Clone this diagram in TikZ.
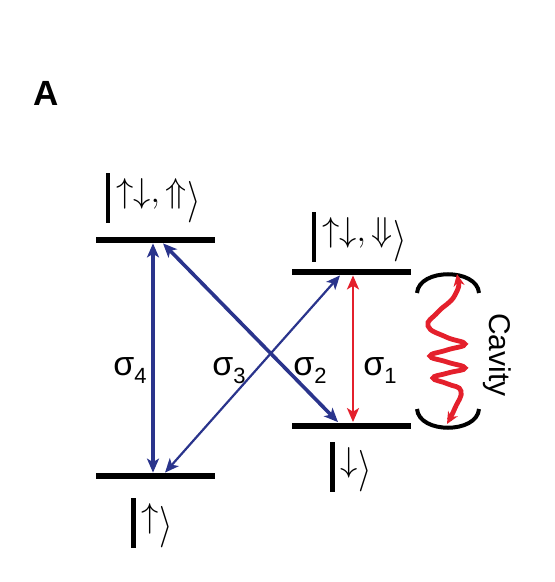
\documentclass[tikz,border=0pt]{standalone}
\usepackage{graphicx}
\usepackage{fontspec}
\setmainfont{Liberation Sans}
\usetikzlibrary{arrows.meta}
\definecolor{darkblue}{RGB}{42,52,140}
\definecolor{cavred}{RGB}{228,32,44}
\newcommand{\kt}[1]{\vrule width 2.3pt height 15pt depth 10pt\,$#1$\raisebox{-5pt}{\scalebox{1}[1.2]{$\rangle$}}}
\newcommand{\sig}[1]{σ\raisebox{-4pt}{\fontsize{11}{11}\selectfont #1}}

\begin{document}
\begin{tikzpicture}[x=0.5pt,y=-0.5pt,>={Stealth[length=7pt,width=6pt,inset=1.8pt]},
    levelbar/.style={fill=black,inner sep=0pt,minimum width=59.5pt,minimum height=3pt},
    ket/.style={inner sep=0pt,font=\fontsize{18}{20}\selectfont},
    sigma/.style={inner sep=0pt,anchor=base west,font=\fontsize{17}{20}\selectfont},
    trans/.style={darkblue,<->}]
\useasboundingbox (0,0) rectangle (554,582);
\node[font=\fontsize{17.5}{20}\selectfont\bfseries] (lblA) at (46,93) {A};
\foreach \n/\x/\y in {upL/155.5/240, upR/351/272, dnL/155.5/476, dnR/351/425.5}
    \node[levelbar] (\n) at (\x,\y) {};
\draw[trans, line width=2.2pt] ([xshift=-1.25pt]upL.south) -- ([xshift=-1.25pt]dnL.north);
\draw[trans, line width=1.8pt] ([xshift=3.75pt]upL.south) -- ([xshift=-6.5pt]dnR.north);
\draw[trans, line width=1.1pt] ([xshift=-5.5pt]upR.south) -- ([xshift=4.75pt]dnL.north);
\draw[cavred, <->, line width=1.3pt] ([xshift=1pt]upR.south) -- ([xshift=1pt]dnR.north);
\node[ket] (kUL) at (153,198) {\kt{\uparrow\downarrow,\Uparrow}};
\node[ket] (kUR) at (359,237) {\kt{\uparrow\downarrow,\Downarrow}};
\node[ket] (kDR) at (351,467) {\kt{\downarrow}};
\node[ket] (kDL) at (152,523) {\kt{\uparrow}};
\node[sigma] (s4) at (113,375) {\sig{4}};
\node[sigma] (s3) at (212,375) {\sig{3}};
\node[sigma] (s2) at (293,375) {\sig{2}};
\node[sigma] (s1) at (363,375) {\sig{1}};
% cavity mirrors and photon
\draw[line width=2pt] (417,293) .. controls (419,268) and (477,268) .. (479,293);
\draw[line width=2pt] (417,409) .. controls (419,434) and (477,434) .. (479,409);
\draw[cavred, line width=2.4pt, {Stealth[length=6pt,width=5.5pt]}-{Stealth[length=6pt,width=5.5pt]}]
    plot[smooth, tension=0.8] coordinates {(457,274) (455,295) (438,312) (428,326) (446,337) (465,344) (447,350) (430,356) (447,362) (465,368) (448,373) (433,378) (448,384) (461,391) (455,408) (447,424)};
\node[rotate=-90, font=\fontsize{15}{18}\selectfont] (cav) at (497,355) {Cavity};
\end{tikzpicture}
\end{document}
